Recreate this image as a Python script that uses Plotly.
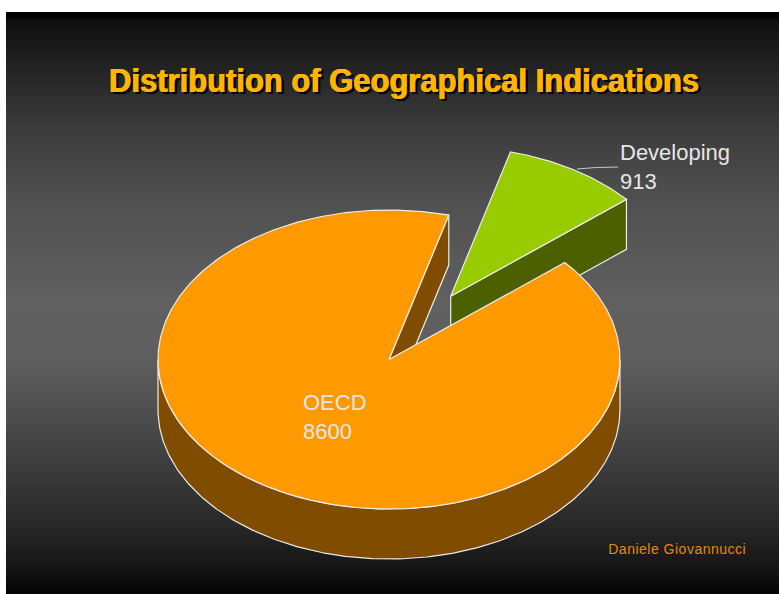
import numpy as np
import plotly.graph_objects as go

# --- chart data ---
labels = ["OECD", "Developing"]
values = [8600, 913]
title_text = "Distribution of Geographical Indications"
credit_text = "Daniele Giovannucci"

# --- styling / layout constants ---
W, H = 779, 594
CX, CY, RX, RY = 389, 359.5, 231, 149.5  # pie centre and radii in pixels
DEPTH = 50 / RY                          # pie thickness in pie units
START_DEG = 75                           # angle at which the first slice starts
EXPLODE = 0.5                            # pull-out of the small slice
TOP = ["#ff9900", "#99cc00"]
SIDE = ["#804d00", "#4d6000"]
EDGE = "#ececec"

grad_y = [12, 17, 20, 60, 110, 130, 200, 300, 360, 450, 520, 570, 594]
grad_v = [0, 2, 14, 32, 52, 60, 80, 96, 94, 66, 42, 20, 4]

fig = go.Figure()

# background
edges = np.arange(12, H + 1)
shade = np.interp(edges[:-1] + 0.5, grad_y, grad_v)
fig.add_trace(go.Heatmap(x=[6, W], y=edges, z=shade[:, None], zmin=0, zmax=255,
                         colorscale=[[0, "#000000"], [1, "#ffffff"]],
                         showscale=False, hoverinfo="skip"))

# slice angles come from the values
total = sum(values)
sweep = [v / total * 2 * np.pi for v in values]
a_orange_0 = np.radians(START_DEG)
a_orange_1 = a_orange_0 + sweep[0]
a_dev_0 = a_orange_1
a_dev_1 = a_dev_0 + sweep[1]


def poly(xs, ys, fill):
    fig.add_trace(go.Scatter(x=xs, y=ys, mode="lines", fill="toself", fillcolor=fill,
                             line=dict(color=EDGE, width=1.2), xaxis="x2", yaxis="y2",
                             hoverinfo="skip", showlegend=False))


def arc(a0, a1, n=240):
    return np.linspace(a0, a1, n)


# developing slice (exploded)
mid = (a_dev_0 + a_dev_1) / 2
ox, oy = EXPLODE * np.cos(mid), EXPLODE * np.sin(mid)
xa, ya = ox + np.cos(a_dev_0), oy + np.sin(a_dev_0)
poly([ox, xa, xa, ox, ox], [oy, ya, ya - DEPTH, oy - DEPTH, oy], SIDE[1])
t = arc(a_dev_0, a_dev_1, 60)
poly(np.r_[ox, ox + np.cos(t), ox], np.r_[oy, oy + np.sin(t), oy], TOP[1])

# orange cut face
xs, ys = np.cos(a_orange_0), np.sin(a_orange_0)
poly([0, xs, xs, 0, 0], [0, ys, ys - DEPTH, -DEPTH, 0], SIDE[0])
# orange outer wall
t = arc(np.pi, 2 * np.pi)
poly(np.r_[np.cos(t), np.cos(t[::-1]), np.cos(t[0])],
     np.r_[np.sin(t), np.sin(t[::-1]) - DEPTH, np.sin(t[0])], SIDE[0])
# orange top
t = arc(a_orange_0, a_orange_1, 480)
poly(np.r_[0, np.cos(t), 0], np.r_[0, np.sin(t), 0], TOP[0])

label_font = dict(family="Liberation Sans, Arial, sans-serif", size=22, color="#e6e6e6")
for i, (px, py) in enumerate([(300.5, 416.5), (618, 166.5)]):
    fig.add_annotation(x=px, y=py, xref="x", yref="y", text=f"{labels[i]}<br>{values[i]}",
                       showarrow=False, align="left", xanchor="left", yanchor="middle",
                       font=label_font)
fig.add_annotation(x=610.5, y=549, xref="x", yref="y", text=credit_text, showarrow=False,
                   xanchor="left", yanchor="middle",
                   font=dict(family="Liberation Sans, Arial, sans-serif", size=14, color="#e68a00"))

fig.update_layout(
    width=W, height=H, margin=dict(l=0, r=0, t=0, b=0),
    paper_bgcolor="#ffffff", plot_bgcolor="#ffffff", showlegend=False,
    title=dict(text=f"<b>{title_text}</b>", x=404 / W, xanchor="center",
               y=1 - 80 / H, yanchor="middle", yref="container",
               font=dict(family="Liberation Sans, Arial, sans-serif", size=33, color="#ffb400",
                         shadow="0.6px 0 0 #ffb400, -0.4px 0 0 #ffb400, 2.5px 2.5px 0 #000000, 3px 2.5px 0 #000000")),
    xaxis=dict(range=[0, W], visible=False, fixedrange=True),
    yaxis=dict(range=[H, 0], visible=False, fixedrange=True),
    xaxis2=dict(range=[-CX / RX, (W - CX) / RX], visible=False, fixedrange=True,
                overlaying="x", anchor="y2"),
    yaxis2=dict(range=[(CY - H) / RY, CY / RY], visible=False, fixedrange=True,
                overlaying="y", anchor="x2"),
    shapes=[dict(type="path", path="M 577 169 Q 595 167 618 167", xref="x", yref="y",
                 line=dict(color="#c8c8c8", width=1))],
)

post = """
document.body.style.margin='0';document.body.style.overflow='hidden';
var t=document.querySelector('.gtitle');
if(t){t.setAttribute('textLength','590');t.setAttribute('lengthAdjust','spacingAndGlyphs');}
document.querySelectorAll('.annotation-text').forEach(function(e){
  if(e.textContent.indexOf('Giovannucci')>=0){e.style.letterSpacing='0.5px';}
});
"""
fig.write_html("out.html", config={"displayModeBar": False}, post_script=post)
